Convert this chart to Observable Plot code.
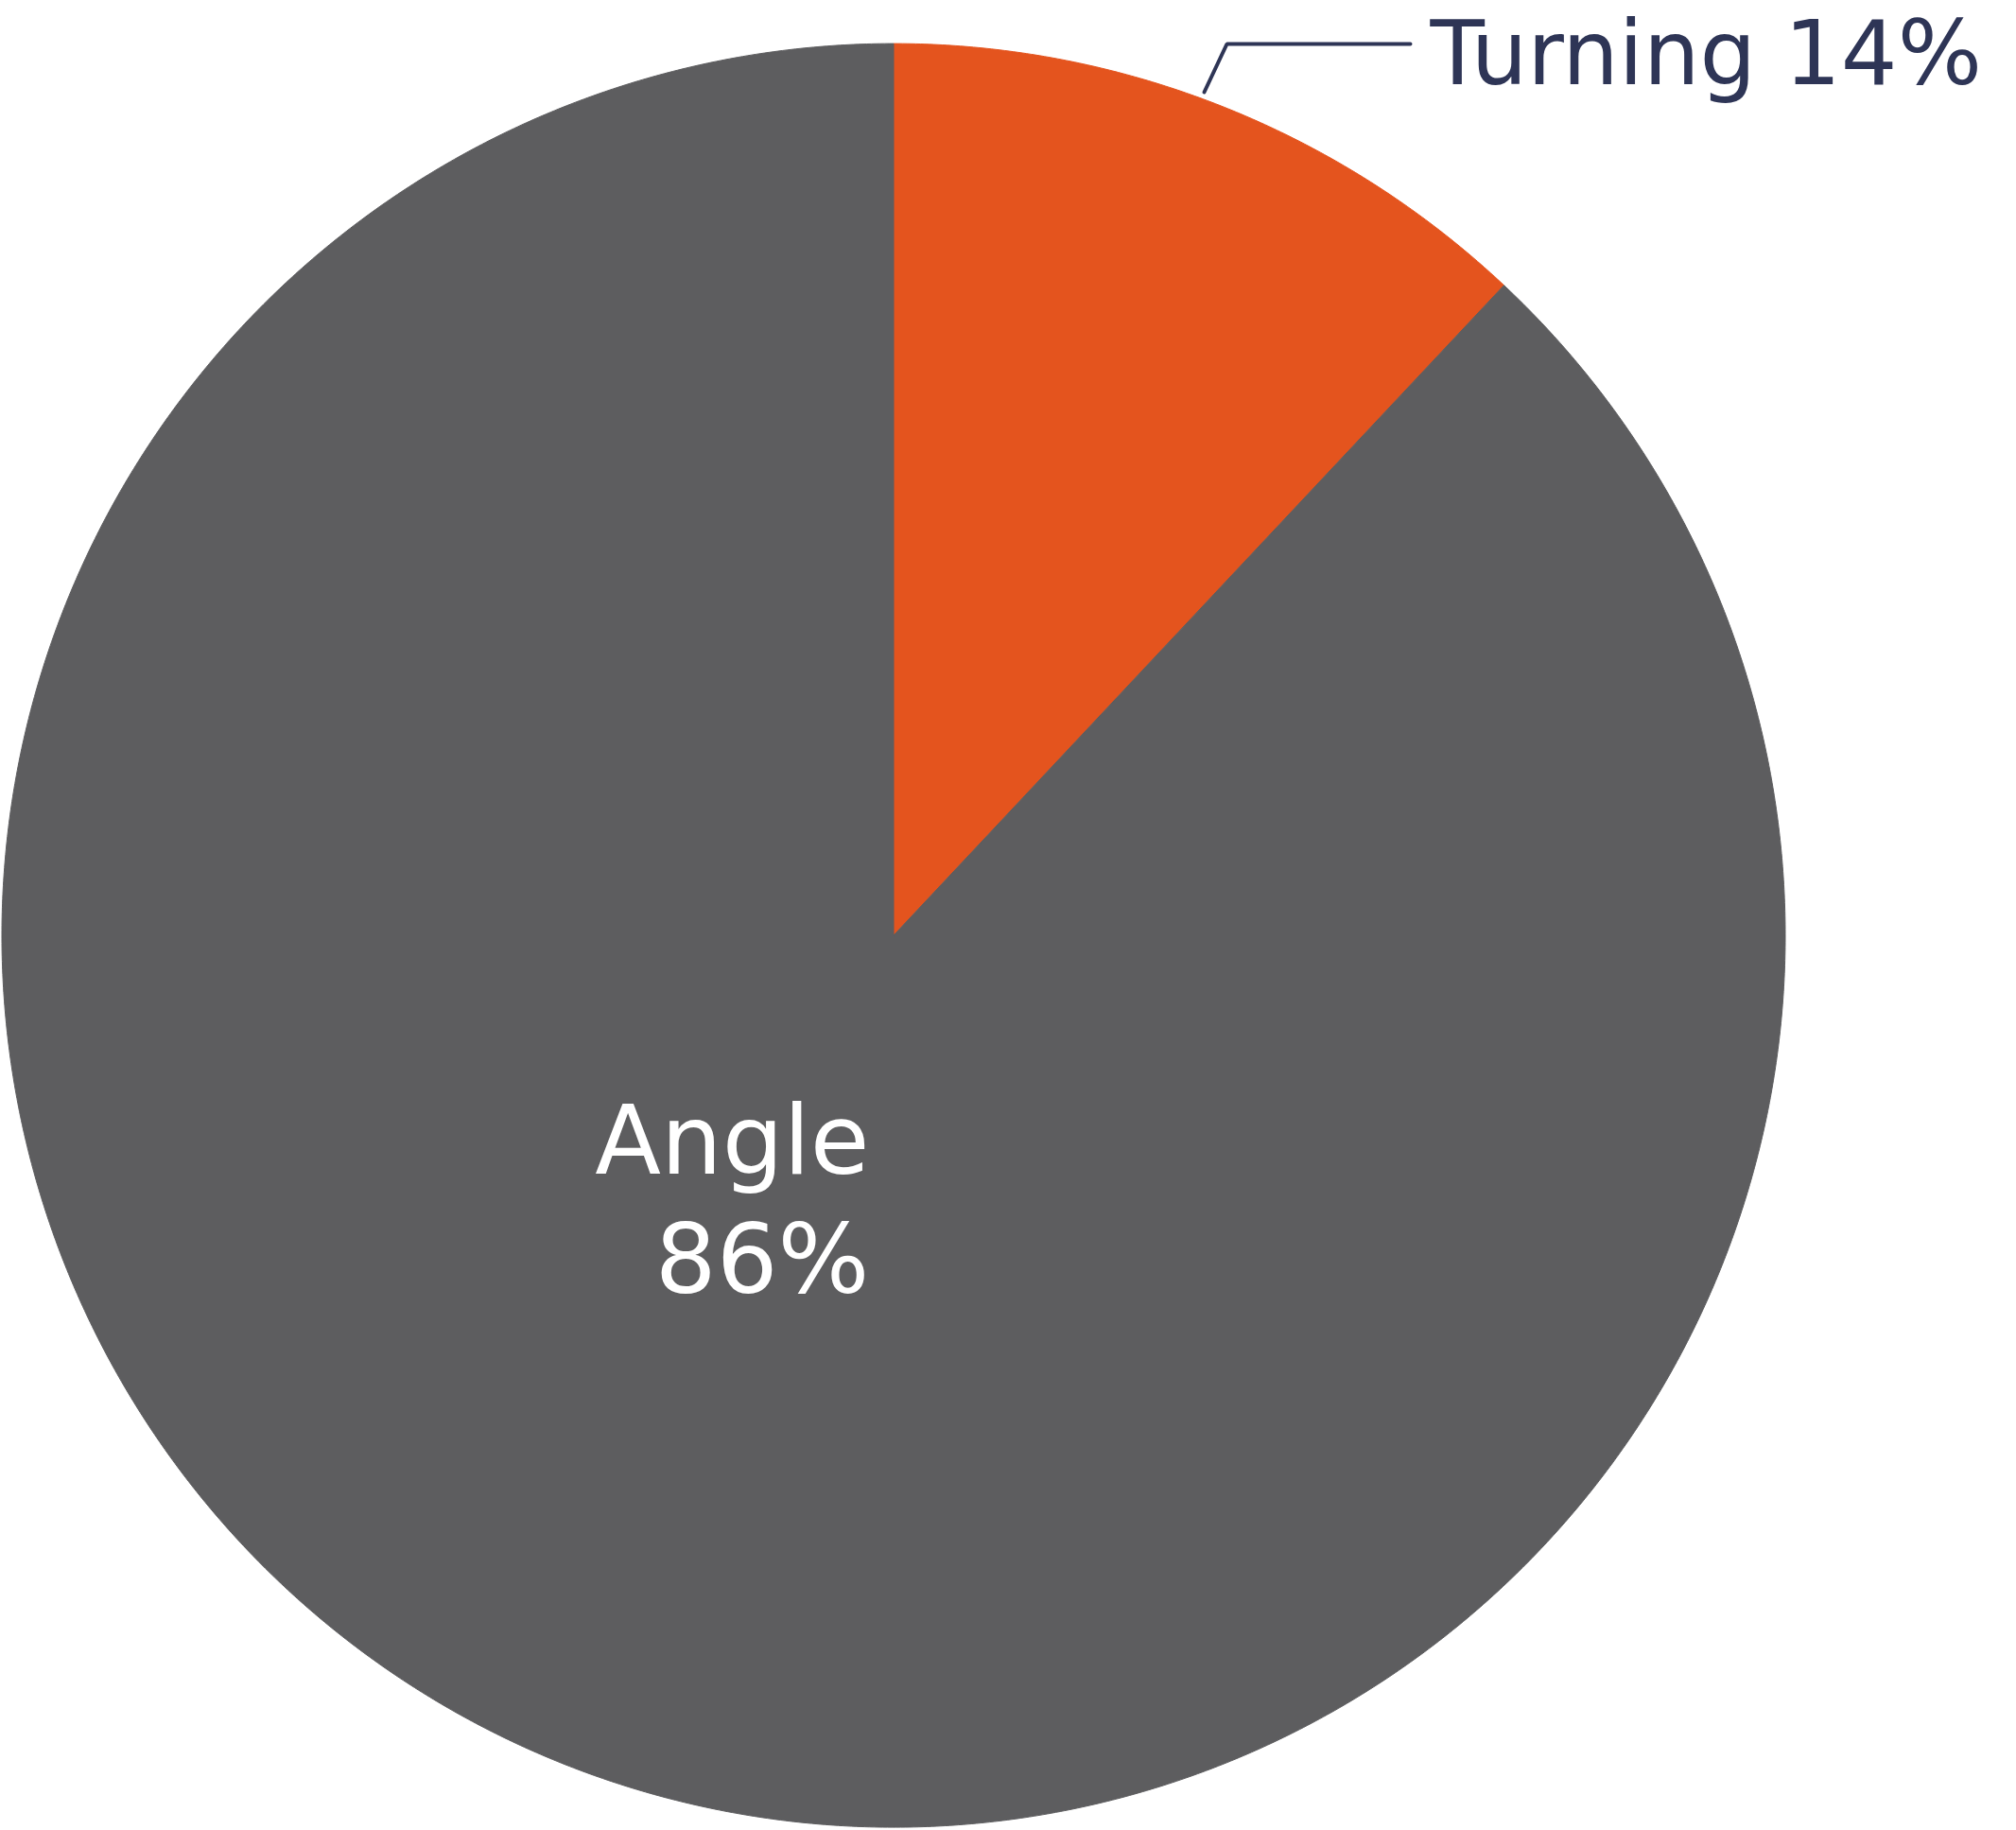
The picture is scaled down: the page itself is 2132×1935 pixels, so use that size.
<!DOCTYPE html>
<html>
<head>
<meta charset="utf-8">
<script src="https://cdn.jsdelivr.net/npm/d3@7"></script>
<script src="https://cdn.jsdelivr.net/npm/@observablehq/plot@0.6"></script>
<style>
  html, body { margin: 0; padding: 0; background: #ffffff; }
  #chart svg { display: block; }
</style>
</head>
<body>
<div id="chart"></div>
<script>
// ---- data ----
const categories = ["Turning", "Angle"];
const sliceValues = [12, 88];          // slice sizes as drawn
const percentLabels = ["14%", "86%"];  // printed labels
const sliceColors = ["#e4541e", "#5d5d5f"];

// ---- layout ----
const W = 2132, H = 1935;
const cx = 944.5, cy = 988.6, R = 943;
const FONT = "'DejaVu Sans', 'Open Sans', sans-serif";

const rows = categories.map((c, i) => ({key: c, value: sliceValues[i]}));
const arcs = d3.pie().sort(null).value(d => d.value)(rows);

// polygon outline of each slice (geometry sampled along the arc)
const outline = [];
for (const a of arcs) {
  const k = a.data.key;
  outline.push({key: k, x: 0, y: 0});
  const n = Math.max(2, Math.ceil((a.endAngle - a.startAngle) / 0.005));
  for (let i = 0; i <= n; i++) {
    const t = a.startAngle + (a.endAngle - a.startAngle) * i / n;
    outline.push({key: k, x: Math.sin(t), y: Math.cos(t)});
  }
  outline.push({key: k, x: 0, y: 0});
}

// annotations (unit coordinates, y up)
const px = (p) => (p - cx) / R;
const py = (p) => (cy - p) / R;
const insideLabel = [{text: `${categories[1]}\n${percentLabels[1]}`, x: px(919), y: py(1366)}];
const outsideLabel = [{text: `${categories[0]} ${percentLabels[0]}`, x: px(1512), y: py(88)}];
const leader = [
  {x: px(1273), y: py(97)},
  {x: px(1297), y: py(46)},
  {x: px(1491), y: py(46)}
];

const chart = Plot.plot({
  width: W,
  height: H,
  margin: 0,
  style: {background: "#ffffff", overflow: "visible"},
  x: {type: "linear", domain: [-1, 1], range: [cx - R, cx + R], axis: null},
  y: {type: "linear", domain: [-1, 1], range: [cy + R, cy - R], axis: null},
  color: {domain: categories, range: sliceColors},
  marks: [
    Plot.line(outline, {x: "x", y: "y", z: "key", fill: "key", stroke: "key", strokeWidth: 1, curve: "linear"}),
    Plot.line(leader, {x: "x", y: "y", stroke: "#2e3556", strokeWidth: 4, strokeLinecap: "round", strokeLinejoin: "miter"}),
    Plot.text(insideLabel, {x: "x", y: "y", text: "text", textAnchor: "end", lineAnchor: "bottom", lineHeight: 1.23, fontSize: 102, fontFamily: FONT, fill: "#ffffff"}),
    Plot.text(outsideLabel, {x: "x", y: "y", text: "text", textAnchor: "start", lineAnchor: "bottom", fontSize: 94, fontFamily: FONT, fill: "#2e3556"})
  ]
});
document.getElementById("chart").appendChild(chart);
</script>
</body>
</html>
